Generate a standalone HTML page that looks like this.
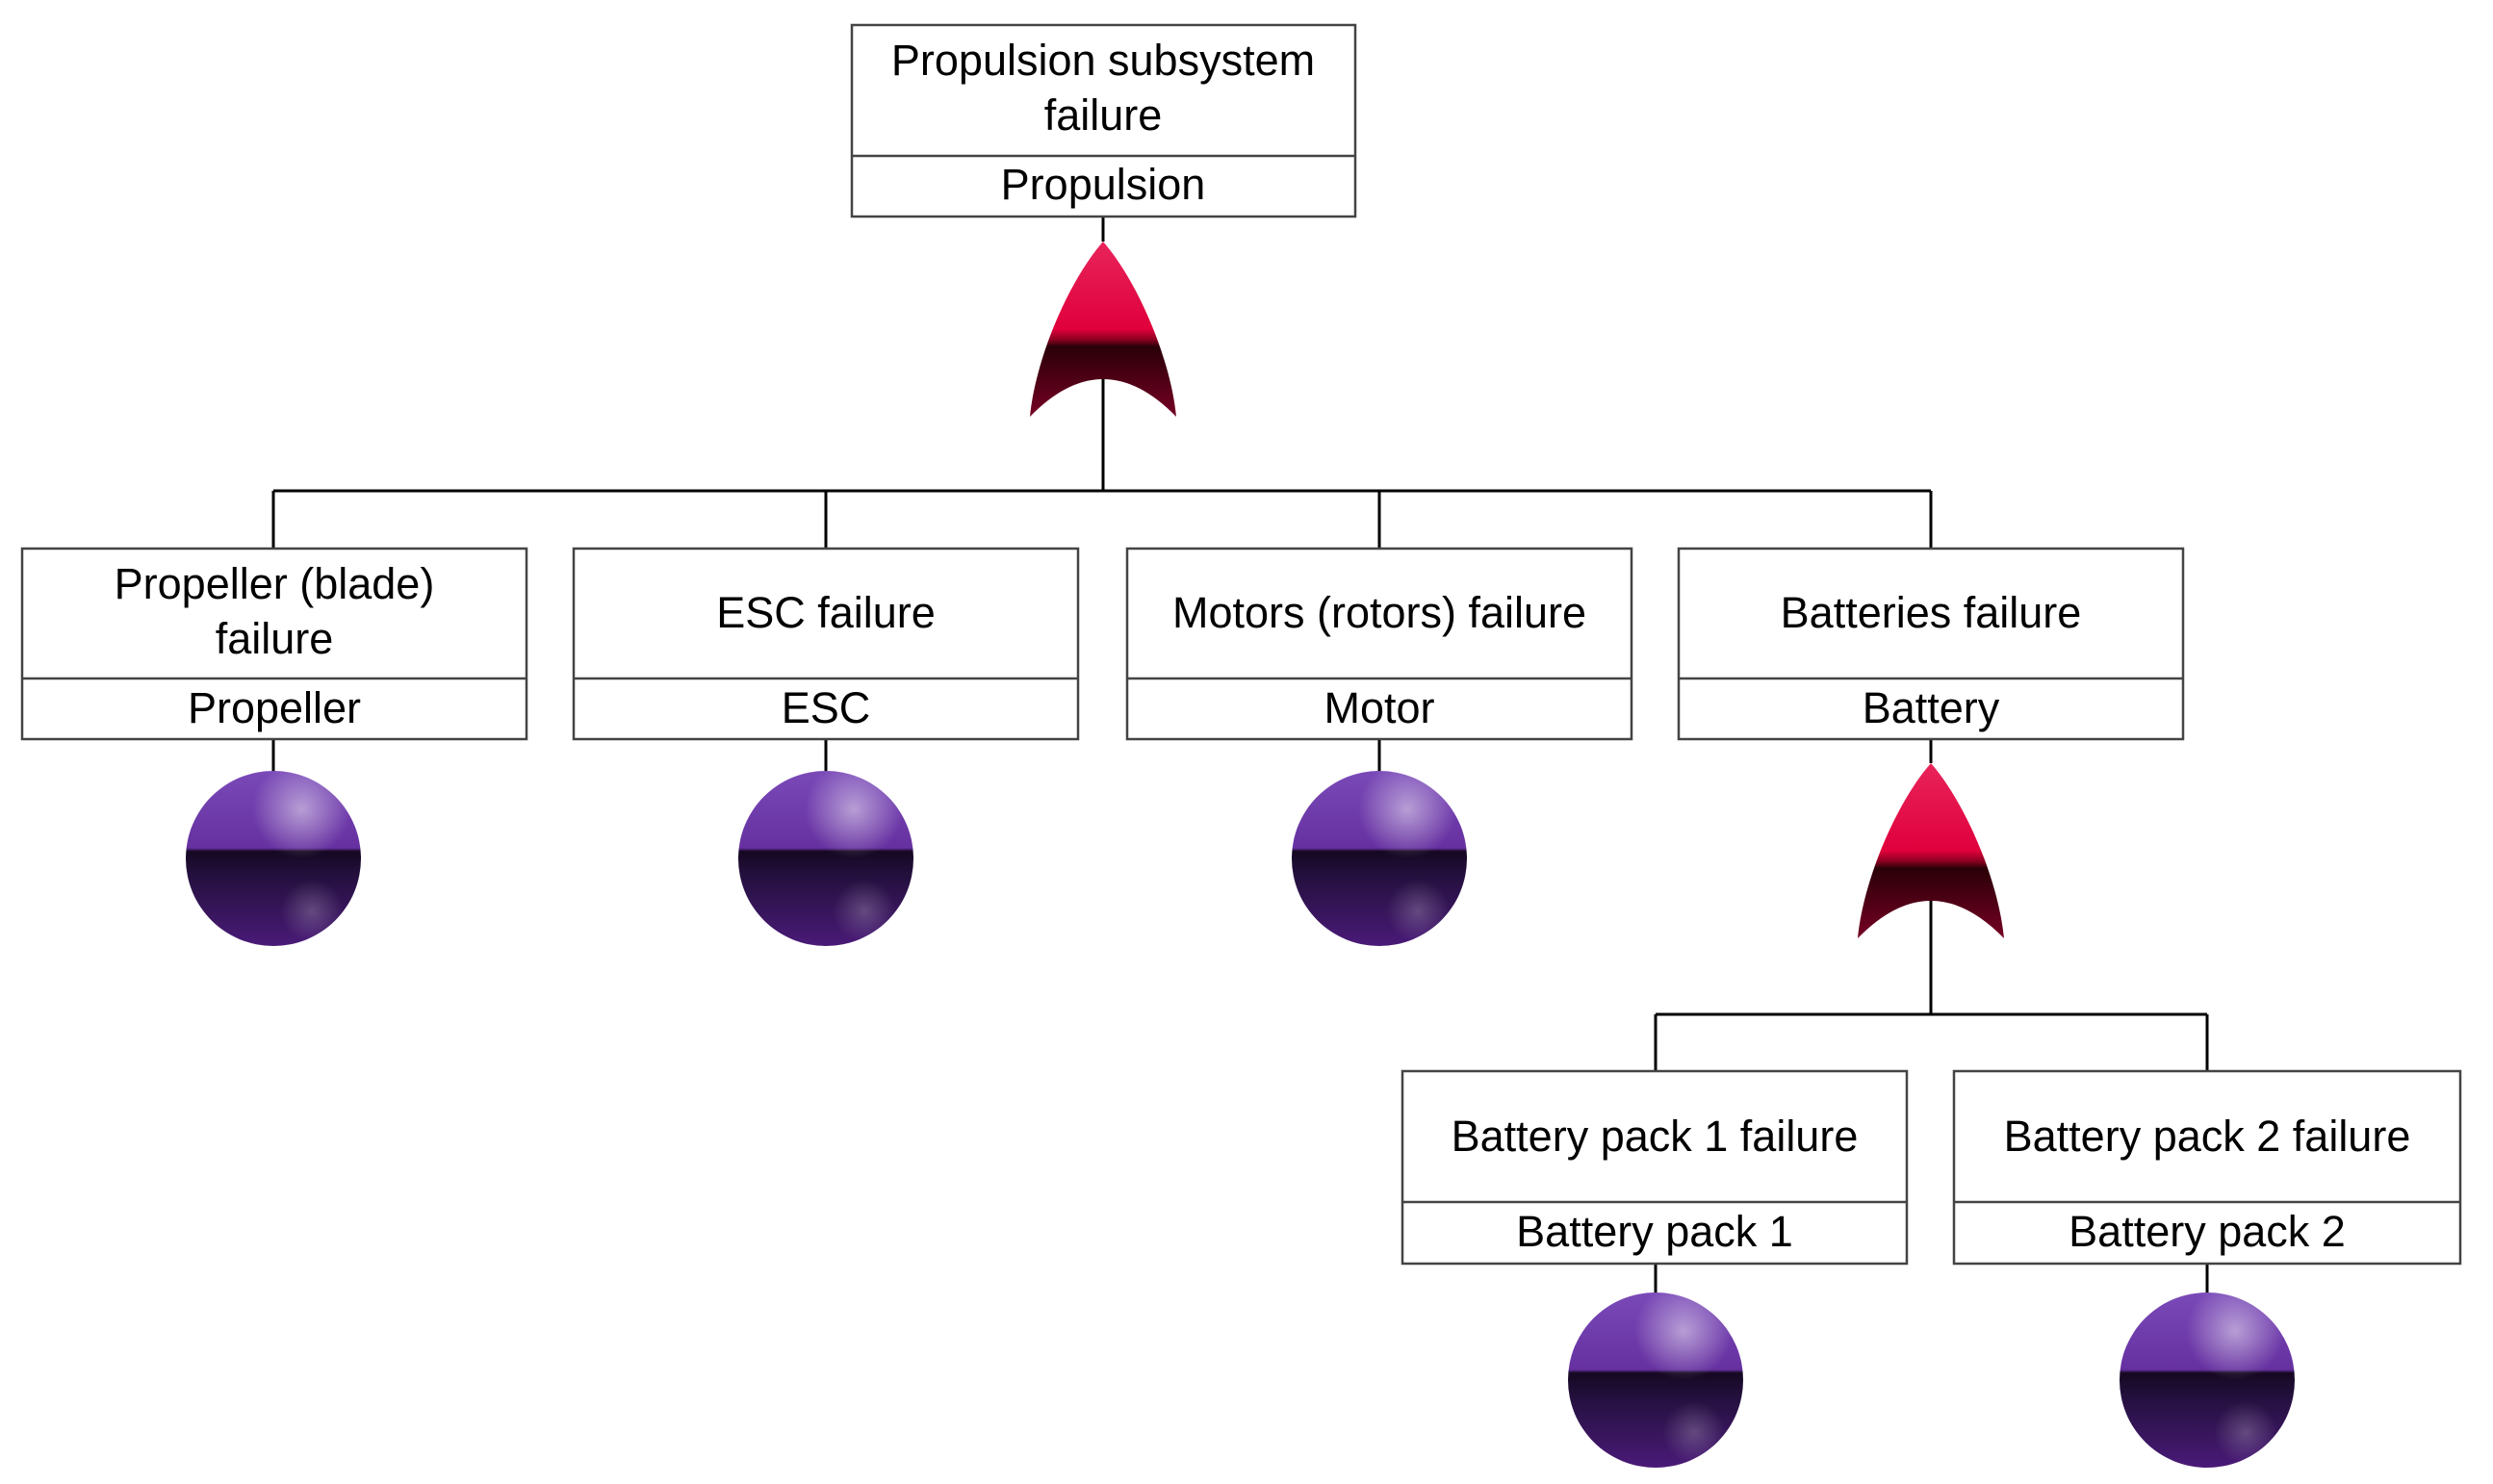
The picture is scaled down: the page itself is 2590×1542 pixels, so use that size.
<!DOCTYPE html>
<html><head><meta charset="utf-8"><style>
html,body{margin:0;padding:0;background:#fff;}
svg{display:block}
text{font-family:"Liberation Sans","DejaVu Sans",sans-serif;font-size:45px;fill:#000;text-anchor:middle}
</style></head><body>
<svg width="2590" height="1542" viewBox="0 0 2590 1542" xmlns="http://www.w3.org/2000/svg">
<defs>
<linearGradient id="gate" x1="0" y1="0" x2="0" y2="1">
<stop offset="0" stop-color="#e8245a"/>
<stop offset="0.5" stop-color="#e0003c"/>
<stop offset="0.56" stop-color="#8a0020"/>
<stop offset="0.6" stop-color="#2a0008"/>
<stop offset="1" stop-color="#760024"/>
</linearGradient>
<linearGradient id="ball" x1="0" y1="0" x2="0" y2="1">
<stop offset="0" stop-color="#7a4ab8"/>
<stop offset="0.44" stop-color="#6630a0"/>
<stop offset="0.46" stop-color="#150822"/>
<stop offset="0.6" stop-color="#24103e"/>
<stop offset="1" stop-color="#4a1a78"/>
</linearGradient>
<radialGradient id="hl" cx="0.66" cy="0.22" r="0.28">
<stop offset="0" stop-color="#ffffff" stop-opacity="0.5"/>
<stop offset="1" stop-color="#ffffff" stop-opacity="0"/>
</radialGradient>
<radialGradient id="hl2" cx="0.72" cy="0.8" r="0.18">
<stop offset="0" stop-color="#ffffff" stop-opacity="0.22"/>
<stop offset="1" stop-color="#ffffff" stop-opacity="0"/>
</radialGradient>
<g id="g"><path d="M0,0 C35,40 70,120 76,182 Q0,104 -76,182 C-70,120 -35,40 0,0Z" fill="url(#gate)"/></g>
<g id="b"><circle cx="0" cy="0" r="91" fill="url(#ball)"/><circle cx="0" cy="0" r="91" fill="url(#hl)"/><circle cx="0" cy="0" r="91" fill="url(#hl2)"/></g>
</defs>
<g stroke="#000" stroke-width="3" fill="none">
<line x1="1146" y1="225" x2="1146" y2="251"/>
<line x1="1146" y1="360" x2="1146" y2="510"/>
<line x1="284" y1="510" x2="2006" y2="510"/>
<line x1="284" y1="510" x2="284" y2="570"/>
<line x1="858" y1="510" x2="858" y2="570"/>
<line x1="1433" y1="510" x2="1433" y2="570"/>
<line x1="2006" y1="510" x2="2006" y2="570"/>
<line x1="284" y1="768" x2="284" y2="802"/>
<line x1="858" y1="768" x2="858" y2="802"/>
<line x1="1433" y1="768" x2="1433" y2="802"/>
<line x1="2006" y1="768" x2="2006" y2="793"/>
<line x1="2006" y1="900" x2="2006" y2="1054"/>
<line x1="1720" y1="1054" x2="2293" y2="1054"/>
<line x1="1720" y1="1054" x2="1720" y2="1113"/>
<line x1="2293" y1="1054" x2="2293" y2="1113"/>
<line x1="1720" y1="1313" x2="1720" y2="1344"/>
<line x1="2293" y1="1313" x2="2293" y2="1344"/>
</g>
<use href="#g" x="1146" y="251"/>
<use href="#g" x="2006" y="793"/>
<use href="#b" x="284" y="892"/>
<use href="#b" x="858" y="892"/>
<use href="#b" x="1433" y="892"/>
<use href="#b" x="1720" y="1434"/>
<use href="#b" x="2293" y="1434"/>
<g stroke="#444" stroke-width="2.5" fill="#fff">
<rect x="885" y="26" width="523" height="199"/><line x1="885" y1="162" x2="1408" y2="162"/>
<rect x="23" y="570" width="524" height="198"/><line x1="23" y1="705" x2="547" y2="705"/>
<rect x="596" y="570" width="524" height="198"/><line x1="596" y1="705" x2="1120" y2="705"/>
<rect x="1171" y="570" width="524" height="198"/><line x1="1171" y1="705" x2="1695" y2="705"/>
<rect x="1744" y="570" width="524" height="198"/><line x1="1744" y1="705" x2="2268" y2="705"/>
<rect x="1457" y="1113" width="524" height="200"/><line x1="1457" y1="1249" x2="1981" y2="1249"/>
<rect x="2030" y="1113" width="526" height="200"/><line x1="2030" y1="1249" x2="2556" y2="1249"/>
</g>
<text x="1146" y="78">Propulsion subsystem</text>
<text x="1146" y="135">failure</text>
<text x="1146" y="207">Propulsion</text>
<text x="285" y="622">Propeller (blade)</text>
<text x="285" y="679">failure</text>
<text x="285" y="751">Propeller</text>
<text x="858" y="652">ESC failure</text>
<text x="858" y="751">ESC</text>
<text x="1433" y="652">Motors (rotors) failure</text>
<text x="1433" y="751">Motor</text>
<text x="2006" y="652">Batteries failure</text>
<text x="2006" y="751">Battery</text>
<text x="1719" y="1196">Battery pack 1 failure</text>
<text x="1719" y="1295">Battery pack 1</text>
<text x="2293" y="1196">Battery pack 2 failure</text>
<text x="2293" y="1295">Battery pack 2</text>
</svg>
</body></html>
